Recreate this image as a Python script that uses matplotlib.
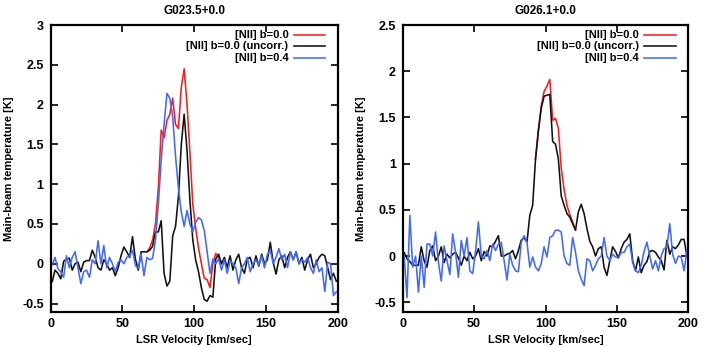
import numpy as np
import matplotlib
import matplotlib.pyplot as plt
from matplotlib.lines import Line2D
from matplotlib.ticker import FuncFormatter

matplotlib.rcParams['font.family'] = ['Liberation Sans', 'DejaVu Sans']
matplotlib.rcParams['font.weight'] = 'bold'
matplotlib.rcParams['axes.unicode_minus'] = False

# velocity channels (km/s), 2 km/s spacing
vel = np.arange(-1, 202, 2)

# G023.5+0.0
g023_uncorr = [-0.2, -0.23, -0.08, -0.12, -0.19, 0.03, 0.06, 0.07, -0.08, 0.0,
               0.02, -0.1, 0.02, 0.04, 0.04, 0.17, 0.08, -0.05, -0.08, 0.05,
               0.0, -0.08, -0.05, -0.15, -0.05, 0.1, 0.21, 0.15, 0.08, 0.34,
               0.06, -0.08, 0.15, 0.15, 0.15, 0.17, 0.22, 0.4, 0.4, 0.54,
               -0.12, -0.28, -0.22, 0.35, 0.47, 0.85, 1.5, 1.88, 1.42, 0.8,
               0.3, 0.05, -0.1, -0.3, -0.45, -0.47, -0.4, -0.42, 0.06, 0.12,
               0.0, 0.08, -0.05, 0.1, -0.08, 0.05, 0.12, -0.05, -0.12, 0.06,
               0.08, -0.05, 0.1, -0.03, 0.12, 0.0, 0.05, 0.27, 0.02, -0.13,
               0.05, 0.1, -0.05, 0.08, 0.15, 0.05, 0.15, 0.0, 0.08, -0.08,
               0.05, 0.12, -0.05, 0.0, 0.08, 0.12, 0.1, -0.05, -0.2, -0.12,
               -0.22, -0.2]
g023_b04 = [0.0, -0.02, 0.08, -0.06, -0.1, -0.17, 0.1, -0.05, 0.08, 0.15,
            -0.05, -0.25, -0.1, -0.08, -0.17, 0.05, 0.0, 0.29, 0.0, 0.23,
            -0.05, 0.08, 0.0, -0.1, 0.02, 0.05, 0.0, 0.08, 0.1, 0.17,
            -0.02, -0.06, 0.12, -0.15, 0.08, 0.05, 0.07, 0.3, 0.75, 1.3,
            1.75, 2.14, 2.08, 1.85, 1.35, 0.95, 0.65, 0.47, 0.67, 0.5,
            0.4, 0.52, 0.58, 0.55, 0.42, 0.15, -0.12, 0.06, 0.0, 0.06,
            -0.08, 0.05, -0.12, 0.04, 0.0, -0.05, -0.25, -0.05, 0.0, 0.08,
            -0.1, 0.0, 0.05, -0.02, 0.1, -0.05, 0.12, 0.17, 0.0, 0.08,
            0.19, 0.05, 0.12, -0.05, 0.15, 0.05, 0.15, 0.0, 0.05, 0.02,
            0.08, -0.05, -0.12, 0.05, -0.1, -0.05, -0.35, 0.02, 0.0, -0.4,
            -0.35, -0.35]
# corrected b=0.0 only differs from the uncorrected one over the line
g023_corr_vel = np.arange(67, 120, 2)
g023_corr = [0.15, 0.2, 0.3, 0.5, 0.95, 1.68, 1.58, 1.80, 1.88, 2.08,
             1.75, 1.70, 2.22, 2.45, 2.0, 1.4, 0.75, 0.45, 0.2, 0.0,
             -0.18, -0.2, -0.3, 0.0, 0.13, 0.08, 0.0]

# G026.1+0.0
g026_uncorr = [0.05, 0.04, -0.03, -0.06, -0.1, -0.1, -0.1, 0.1, -0.05, -0.12,
               0.06, 0.11, -0.05, 0.0, 0.1, -0.07, 0.02, -0.02, 0.02, 0.04,
               -0.02, -0.1, 0.0, -0.05, 0.04, -0.03, 0.0, 0.08, -0.05, 0.05,
               0.0, 0.11, 0.1, 0.16, 0.22, 0.0, 0.0, 0.02, 0.03, 0.06,
               -0.03, 0.06, 0.17, 0.2, 0.15, 0.44, 0.55, 1.05, 1.35, 1.6,
               1.73, 1.74, 1.75, 1.24, 1.21, 1.05, 0.65, 0.55, 0.46, 0.42,
               0.35, 0.28, 0.48, 0.56, 0.46, 0.3, 0.16, 0.1, 0.0, 0.08,
               0.1, -0.12, -0.21, -0.05, 0.1, 0.05, -0.02, 0.08, 0.15, 0.18,
               0.24, -0.05, -0.16, -0.01, -0.18, -0.1, -0.06, 0.05, 0.06, 0.04,
               -0.01, -0.05, -0.15, 0.17, 0.02, 0.1, 0.08, 0.12, 0.18, 0.18,
               0.0, 0.0]
g026_b04 = [0.0, 0.0, -0.45, 0.44, -0.12, 0.0, -0.39, 0.0, -0.34, 0.13,
            0.13, 0.0, 0.26, -0.07, -0.27, 0.11, -0.05, -0.2, 0.24, 0.04,
            -0.23, 0.17, 0.0, 0.2, -0.16, -0.19, 0.05, 0.37, 0.0, -0.03,
            0.06, -0.05, 0.13, 0.06, 0.13, 0.15, -0.05, -0.26, 0.02, -0.1,
            -0.16, -0.17, 0.15, 0.22, 0.15, -0.12, -0.01, -0.12, -0.16, -0.08,
            0.1, -0.01, 0.2, 0.22, 0.28, 0.28, 0.26, 0.0, -0.08, -0.1,
            0.2, 0.04, -0.16, -0.25, -0.32, -0.03, -0.05, -0.16, -0.1, -0.03,
            0.0, 0.2, 0.0, -0.05, 0.02, -0.01, -0.02, 0.04, 0.04, 0.1,
            0.13, -0.07, -0.16, -0.18, -0.1, 0.05, 0.15, 0.0, -0.14, -0.05,
            -0.16, 0.0, 0.08, 0.1, 0.35, 0.02, -0.08, 0.0, -0.01, -0.16,
            0.06, 0.1]
g026_corr_vel = np.arange(93, 122, 2)
g026_corr = [1.05, 1.37, 1.62, 1.78, 1.84, 1.91, 1.47, 1.49, 1.38, 0.95,
             0.72, 0.55, 0.45, 0.37, 0.28]

labels = ['[NII] b=0.0', '[NII] b=0.0 (uncorr.)', '[NII] b=0.4']
colors = ['#ff1a1a', '#111111', '#4169ff']


def draw_panel(ax, title, corr_v, corr, uncorr, b04, ymax):
    ax.plot(corr_v, corr, color=colors[0], lw=1.15)
    ax.plot(vel, uncorr, color=colors[1], lw=1.15)
    ax.plot(vel, b04, color=colors[2], lw=1.15)
    ax.set_xlim(0, 200)
    ax.set_ylim(-0.6, ymax)
    ax.set_xticks([0, 50, 100, 150, 200])
    ax.set_yticks(np.arange(-0.5, ymax + 0.01, 0.5))
    ax.yaxis.set_major_formatter(FuncFormatter(lambda y, p: '%g' % y))
    ax.tick_params(direction='in', length=5, width=1.2, top=True, right=True,
                   labelsize=9, pad=5)
    for s in ax.spines.values():
        s.set_linewidth(1.6)
    ax.set_title(title, fontsize=8.5, fontweight='bold', pad=8)
    ax.set_xlabel('LSR Velocity [km/sec]', fontsize=8, fontweight='bold', labelpad=3)
    ax.set_ylabel('Main-beam temperature [K]', fontsize=8, fontweight='bold', labelpad=6)
    # gnuplot style key: text right aligned, sample line to the right
    for i, (lab, c) in enumerate(zip(labels, colors)):
        yy = 0.966 - i * 0.04
        ax.text(0.828, yy, lab, transform=ax.transAxes, ha='right', va='center',
                fontsize=8, fontweight='bold')
        ax.add_line(Line2D([0.846, 0.957], [yy, yy], transform=ax.transAxes,
                           color=c, lw=1.15))


fig = plt.figure(figsize=(7.07, 3.47), dpi=100)
ax1 = fig.add_axes([0.0717, 0.1023, 0.406, 0.8256])
ax2 = fig.add_axes([0.5696, 0.1023, 0.404, 0.8256])

draw_panel(ax1, 'G023.5+0.0', g023_corr_vel, g023_corr, g023_uncorr, g023_b04, 3.0)
draw_panel(ax2, 'G026.1+0.0', g026_corr_vel, g026_corr, g026_uncorr, g026_b04, 2.5)

fig.savefig('out.png', dpi=100)
